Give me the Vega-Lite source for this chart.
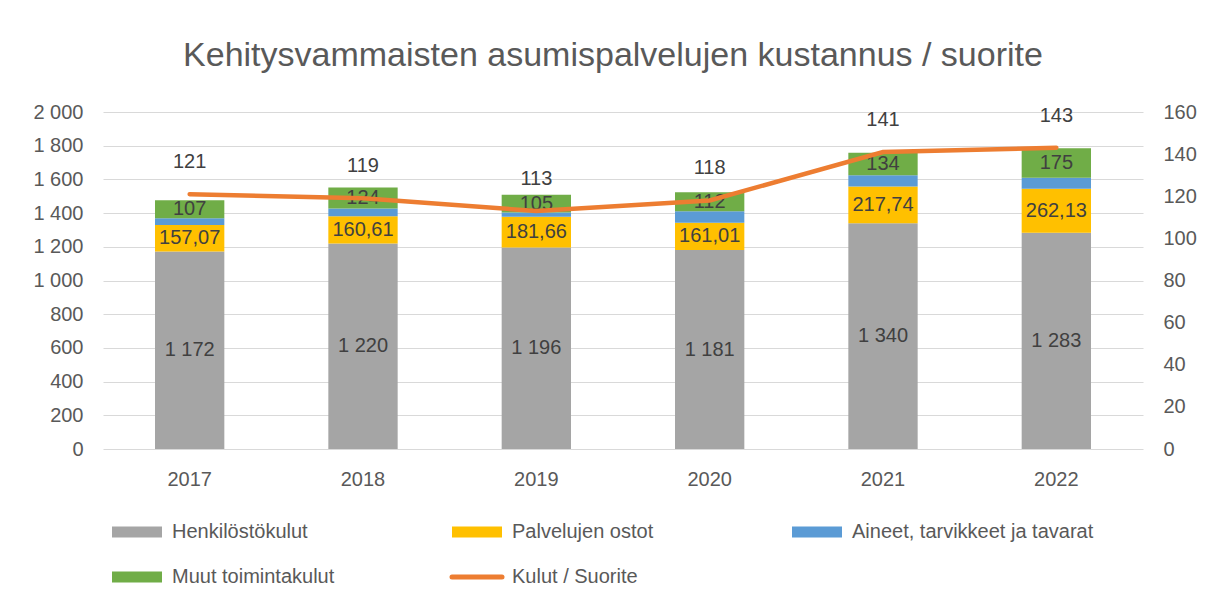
{
  "$schema": "https://vega.github.io/schema/vega-lite/v6.json",
  "width": 1040,
  "height": 337,
  "autosize": {"type": "none"},
  "padding": {"left": 103, "top": 112, "right": 65, "bottom": 152},
  "background": "white",
  "config": {
    "locale": {"number": {"decimal": ",", "thousands": " ", "grouping": [3], "currency": ["", " €"]}},
    "font": "Liberation Sans",
    "view": {"stroke": null}
  },
  "title": {
    "text": "Kehitysvammaisten asumispalvelujen kustannus / suorite",
    "fontSize": 34,
    "fontWeight": "normal",
    "font": "Liberation Sans",
    "color": "#595959",
    "anchor": "middle",
    "offset": 29,
    "dx": -10
  },
  "datasets": {
    "bars": [
      {"year": "2017", "series": "Henkilöstökulut", "ord": 1, "value": 1172},
      {"year": "2017", "series": "Palvelujen ostot", "ord": 2, "value": 157.07},
      {"year": "2017", "series": "Aineet, tarvikkeet ja tavarat", "ord": 3, "value": 40},
      {"year": "2017", "series": "Muut toimintakulut", "ord": 4, "value": 107},
      {"year": "2018", "series": "Henkilöstökulut", "ord": 1, "value": 1220},
      {"year": "2018", "series": "Palvelujen ostot", "ord": 2, "value": 160.61},
      {"year": "2018", "series": "Aineet, tarvikkeet ja tavarat", "ord": 3, "value": 47},
      {"year": "2018", "series": "Muut toimintakulut", "ord": 4, "value": 124},
      {"year": "2019", "series": "Henkilöstökulut", "ord": 1, "value": 1196},
      {"year": "2019", "series": "Palvelujen ostot", "ord": 2, "value": 181.66},
      {"year": "2019", "series": "Aineet, tarvikkeet ja tavarat", "ord": 3, "value": 26},
      {"year": "2019", "series": "Muut toimintakulut", "ord": 4, "value": 105},
      {"year": "2020", "series": "Henkilöstökulut", "ord": 1, "value": 1181},
      {"year": "2020", "series": "Palvelujen ostot", "ord": 2, "value": 161.01},
      {"year": "2020", "series": "Aineet, tarvikkeet ja tavarat", "ord": 3, "value": 69},
      {"year": "2020", "series": "Muut toimintakulut", "ord": 4, "value": 112},
      {"year": "2021", "series": "Henkilöstökulut", "ord": 1, "value": 1340},
      {"year": "2021", "series": "Palvelujen ostot", "ord": 2, "value": 217.74},
      {"year": "2021", "series": "Aineet, tarvikkeet ja tavarat", "ord": 3, "value": 67},
      {"year": "2021", "series": "Muut toimintakulut", "ord": 4, "value": 134},
      {"year": "2022", "series": "Henkilöstökulut", "ord": 1, "value": 1283},
      {"year": "2022", "series": "Palvelujen ostot", "ord": 2, "value": 262.13},
      {"year": "2022", "series": "Aineet, tarvikkeet ja tavarat", "ord": 3, "value": 65},
      {"year": "2022", "series": "Muut toimintakulut", "ord": 4, "value": 175}
    ],
    "line": [
      {"year": "2017", "value": 121},
      {"year": "2018", "value": 119},
      {"year": "2019", "value": 113},
      {"year": "2020", "value": 118},
      {"year": "2021", "value": 141},
      {"year": "2022", "value": 143}
    ]
  },
  "encoding": {
    "x": {
      "field": "year",
      "type": "nominal",
      "scale": {"paddingInner": 0.6, "paddingOuter": 0.3},
      "axis": {
        "title": null,
        "labelAngle": 0,
        "domain": false,
        "ticks": false,
        "labelFontSize": 20,
        "labelColor": "#595959",
        "labelPadding": 20
      }
    }
  },
  "layer": [
    {
      "data": {"name": "bars"},
      "layer": [
        {
          "mark": {"type": "bar"},
          "encoding": {
            "y": {
              "field": "value",
              "type": "quantitative",
              "stack": "zero",
              "scale": {"domain": [0, 2000], "nice": false},
              "axis": {
                "title": null,
                "values": [0, 200, 400, 600, 800, 1000, 1200, 1400, 1600, 1800, 2000],
                "format": ",d",
                "grid": true,
                "gridColor": "#d9d9d9",
                "gridWidth": 1,
                "domain": false,
                "ticks": false,
                "labelFontSize": 20,
                "labelColor": "#595959",
                "labelPadding": 20
              }
            },
            "color": {
              "field": "series",
              "type": "nominal",
              "scale": {
                "domain": ["Henkilöstökulut", "Palvelujen ostot", "Aineet, tarvikkeet ja tavarat", "Muut toimintakulut", "Kulut / Suorite"],
                "range": ["#a5a5a5", "#ffc000", "#5b9bd5", "#70ad47", "#ed7d31"]
              },
              "legend": {
                "title": null,
                "orient": "none",
                "direction": "horizontal",
                "legendX": 24,
                "legendY": 410,
                "columns": 3,
                "gridAlign": "all",
                "padding": 0,
                "columnPadding": 28,
                "rowPadding": 25,
                "labelFontSize": 20,
                "labelColor": "#595959",
                "labelLimit": 400,
                "labelOffset": 25,
                "symbolSize": 400,
                "encode": {
                  "symbols": {
                    "update": {
                      "shape": {"signal": "datum.value === 'Kulut / Suorite' ? 'M-2.5,0H2.5' : 'M-2.5,-0.55H2.5V0.55H-2.5Z'"},
                      "fill": {"signal": "datum.value === 'Kulut / Suorite' ? 'transparent' : scale('color', datum.value)"},
                      "stroke": {"signal": "datum.value === 'Kulut / Suorite' ? '#ed7d31' : 'transparent'"},
                      "strokeWidth": {"signal": "datum.value === 'Kulut / Suorite' ? 5 : 0"},
                      "strokeCap": {"value": "round"},
                      "opacity": {"value": 1}
                    }
                  }
                }
              }
            },
            "order": {"field": "ord", "type": "quantitative"}
          }
        },
        {
          "mark": {"type": "text", "fontSize": 20, "color": "#404040", "baseline": "middle"},
          "encoding": {
            "y": {
              "field": "value",
              "type": "quantitative",
              "stack": "zero",
              "bandPosition": 0.5,
              "axis": {
                "title": null,
                "values": [0, 200, 400, 600, 800, 1000, 1200, 1400, 1600, 1800, 2000],
                "format": ",d",
                "grid": true,
                "gridColor": "#d9d9d9",
                "gridWidth": 1,
                "domain": false,
                "ticks": false,
                "labelFontSize": 20,
                "labelColor": "#595959",
                "labelPadding": 20
              }
            },
            "detail": {"field": "series", "type": "nominal"},
            "order": {"field": "ord", "type": "quantitative"},
            "text": {"field": "value", "type": "quantitative", "format": ",.2~f"},
            "opacity": {"condition": {"test": "datum.series === 'Aineet, tarvikkeet ja tavarat'", "value": 0}, "value": 1}
          }
        }
      ]
    },
    {
      "data": {"name": "line"},
      "layer": [
        {
          "mark": {"type": "line", "color": "#ed7d31", "strokeWidth": 4.5, "strokeCap": "round"},
          "encoding": {
            "y": {
              "field": "value",
              "type": "quantitative",
              "scale": {"domain": [0, 160], "nice": false},
              "axis": {
                "orient": "right",
                "title": null,
                "values": [0, 20, 40, 60, 80, 100, 120, 140, 160],
                "grid": false,
                "domain": false,
                "ticks": false,
                "labelFontSize": 20,
                "labelColor": "#595959",
                "labelPadding": 20
              }
            }
          }
        },
        {
          "mark": {"type": "text", "fontSize": 20, "color": "#404040", "baseline": "middle", "dy": -32},
          "encoding": {
            "y": {
              "field": "value",
              "type": "quantitative",
              "axis": {
                "orient": "right",
                "title": null,
                "values": [0, 20, 40, 60, 80, 100, 120, 140, 160],
                "grid": false,
                "domain": false,
                "ticks": false,
                "labelFontSize": 20,
                "labelColor": "#595959",
                "labelPadding": 20
              }
            },
            "text": {"field": "value", "type": "quantitative"}
          }
        }
      ]
    }
  ],
  "resolve": {"scale": {"y": "independent"}}
}
